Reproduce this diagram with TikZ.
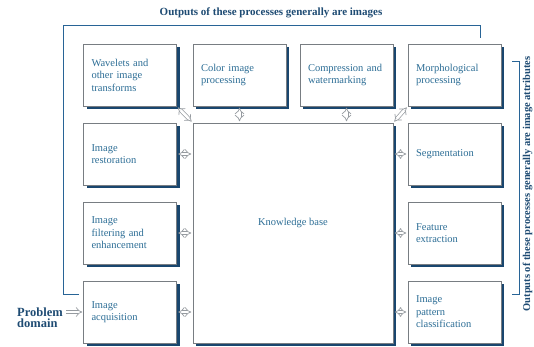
\documentclass[tikz,border=0pt]{standalone}
\usepackage{fontspec}
\setmainfont{Liberation Serif}
\usepackage{xcolor}
\usepackage{tikz}
\usetikzlibrary{arrows.meta, shadows}
\definecolor{DIPText}{RGB}{45, 110, 150}
\definecolor{DIPBorder}{RGB}{120, 125, 130}
\definecolor{DIPShadow}{RGB}{25, 70, 110}
\definecolor{DIPLine}{RGB}{40, 100, 150}
\definecolor{DIPHead}{RGB}{30, 75, 115}
\definecolor{DIPArrow}{RGB}{150, 155, 160}

\tikzset{
  stage/.style={draw=DIPBorder, line width=0.6pt, fill=white,
    minimum width=93pt, minimum height=62pt, text width=77pt, inner xsep=8pt,
    align=left, text=DIPText, font=\fontsize{10.5}{12.5}\selectfont,
    drop shadow={shadow xshift=3pt, shadow yshift=-3pt, fill=DIPShadow, opacity=1}},
  kbbox/.style={stage, minimum width=200pt, minimum height=220pt, text width=184pt},
  kblink/.style={DIPArrow, double, double distance=2.6pt, line width=0.7pt,
    {Implies}-{Implies}, shorten <=1.5pt, shorten >=1.5pt},
  inlink/.style={DIPArrow, double, double distance=2.6pt, line width=0.7pt,
    -{Implies}, shorten <=2pt, shorten >=1pt},
  bracket/.style={DIPLine, line width=0.9pt},
  headtext/.style={text=DIPHead, font=\bfseries\fontsize{11}{12}\selectfont, inner sep=1pt},
}

\begin{document}
\begin{tikzpicture}[x=1pt,y=-1pt]
  \path[use as bounding box] (0,0) rectangle (534,346);
  \fill[white] (0,0) rectangle (534,346);

  % top row
  \node[stage] (wave)  at (130,75)   {Wavelets and\\other image\\transforms};
  \node[stage] (color) at (239.5,75) {Color image\\processing};
  \node[stage] (comp)  at (346.5,75) {Compression and\\watermarking};
  \node[stage] (morph) at (454.5,75) {Morphological\\processing};

  % left column
  \node[stage] (rest) at (130,154) {Image\\restoration};
  \node[stage] (filt) at (130,233) {Image\\filtering and\\enhancement};
  \node[stage] (acq)  at (130,312) {Image\\acquisition};

  % right column
  \node[stage] (seg)  at (454.5,154) {Segmentation};
  \node[stage] (feat) at (454.5,233) {Feature\\extraction};
  \node[stage] (patt) at (454.5,312) {Image\\pattern\\classification};

  % knowledge base
  \node[kbbox, label={[text=DIPText, font=\fontsize{10.5}{12.5}\selectfont, yshift=10pt]center:Knowledge base}] (kb) at (293,233) {};

  % links to the knowledge base
  \draw[kblink] (wave.south east) -- (kb.north west);
  \draw[kblink] (morph.south west) -- (kb.north east);
  \draw[kblink] (color.south) -- (kb.north -| color.south);
  \draw[kblink] (comp.south) -- (kb.north -| comp.south);
  \foreach \s in {rest,filt,acq}{
    \draw[kblink] (\s.east) -- (kb.west |- \s.east);
  }
  \foreach \s in {seg,feat,patt}{
    \draw[kblink] (kb.east |- \s.west) -- (\s.west);
  }

  % problem domain
  \node[headtext, font=\bfseries\fontsize{12.5}{11.5}\selectfont, align=left, anchor=east] (prob) at (64,317.5) {Problem\\domain};
  \draw[inlink] (prob.east |- acq.west) -- (acq.west);

  % output brackets
  \node[headtext] (outimg) at (271,13) {Outputs of these processes generally are images};
  \node[headtext, font=\bfseries\fontsize{10.5}{12}\selectfont, rotate=90] (outattr) at (527.5,184) {Outputs of these processes generally are image attributes};
  \coordinate (lbend) at (79,294);
  \coordinate (tbend) at (480,38);
  \coordinate (rbtop) at (512,61);
  \coordinate (rbbot) at (512,294);
  \draw[bracket] (lbend) -- (63,294) -- (63,25) -- (480,25) -- (tbend);
  \draw[bracket] (rbtop) -- (519,61) -- (519,294) -- (rbbot);
\end{tikzpicture}
\end{document}
